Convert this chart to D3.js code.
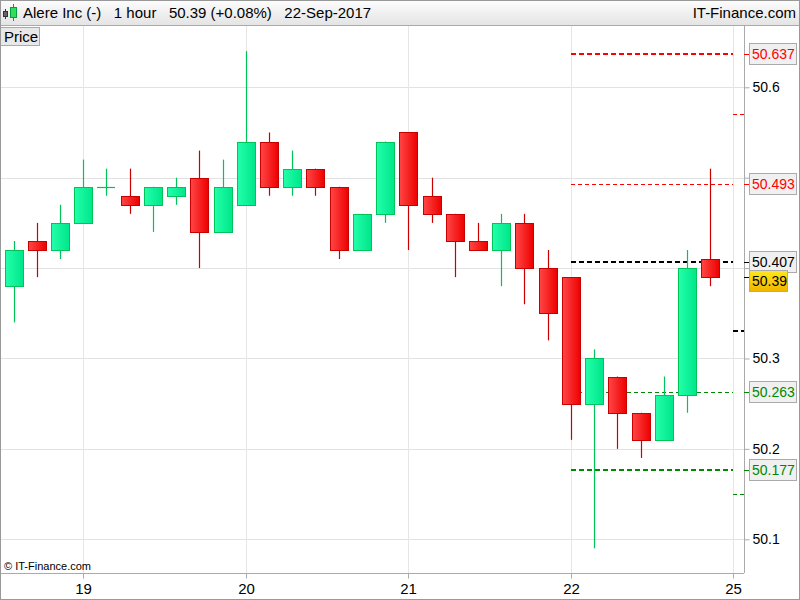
<!DOCTYPE html>
<html><head><meta charset="utf-8">
<script src="https://cdn.jsdelivr.net/npm/d3@7"></script>
<style>html,body{margin:0;padding:0;background:#fff;}svg{display:block;font-family:"Liberation Sans",Arial,sans-serif;}</style>
</head><body>
<script>
// ---- data ----
const opens  = [50.38,50.43,50.42,50.45,50.49,50.48,50.47,50.48,50.50,50.44,50.47,50.54,50.49,50.51,50.49,50.42,50.46,50.55,50.48,50.46,50.43,50.42,50.45,50.40,50.39,50.25,50.28,50.24,50.21,50.26,50.41];
const highs  = [50.43,50.45,50.47,50.52,50.51,50.51,50.49,50.50,50.53,50.52,50.64,50.55,50.53,50.51,50.49,50.46,50.54,50.55,50.50,50.46,50.45,50.46,50.46,50.42,50.39,50.31,50.28,50.24,50.28,50.42,50.51];
const lows   = [50.34,50.39,50.41,50.45,50.48,50.46,50.44,50.47,50.40,50.44,50.47,50.48,50.48,50.48,50.41,50.42,50.45,50.42,50.45,50.39,50.42,50.38,50.36,50.32,50.21,50.09,50.20,50.19,50.21,50.24,50.38];
const closes = [50.42,50.42,50.45,50.49,50.49,50.47,50.49,50.49,50.44,50.49,50.54,50.49,50.51,50.49,50.42,50.46,50.54,50.47,50.46,50.43,50.42,50.45,50.40,50.35,50.25,50.30,50.24,50.21,50.26,50.40,50.39];
const dayTickIdx = [3,10,17,24,31];
const dayTickLabels = ["19","20","21","22","25"];
const priceTicks = [50.1,50.2,50.3,50.4,50.5,50.6];
const levelValues = [50.637,50.493,50.407,50.263,50.177];
const levelLabels = ["50.637","50.493","50.407","50.263","50.177"];
const levelKinds  = ["red-thick","red-thin","black-thick","green-thin","green-thick"];
const markerValues = [50.570,50.330,50.150];
const markerKinds  = ["red","black","green"];
const lastPrice = 50.39;

const W=800,H=600, plotL=0, plotR=744, plotT=26, plotB=573;
const svg=d3.select("body").append("svg").attr("width",W).attr("height",H);
const defs=svg.append("defs");
const gG=defs.append("linearGradient").attr("id","gGreen");
gG.append("stop").attr("offset","0").attr("stop-color","#22ffaa");
gG.append("stop").attr("offset","1").attr("stop-color","#00e68a");
const gR=defs.append("linearGradient").attr("id","gRed");
gR.append("stop").attr("offset","0").attr("stop-color","#ff4646");
gR.append("stop").attr("offset","1").attr("stop-color","#ee0000");
const gH=defs.append("linearGradient").attr("id","gHead").attr("x2",0).attr("y2",1);
gH.append("stop").attr("offset","0").attr("stop-color","#fdfdfd");
gH.append("stop").attr("offset","1").attr("stop-color","#e4e4e4");
const gY=defs.append("linearGradient").attr("id","gGold").attr("x2",0).attr("y2",1);
gY.append("stop").attr("offset","0").attr("stop-color","#ffe81a");
gY.append("stop").attr("offset","1").attr("stop-color","#f0b400");

const y=d3.scaleLinear().domain([50.0627,50.6678]).range([plotB,plotT]);
const x=d3.scaleLinear().domain([0,30]).range([13.6,710.2]);
const cx=i=>Math.round(x(i));

// grid
svg.append("g").selectAll("line").data(priceTicks).join("line")
  .attr("x1",plotL).attr("x2",plotR).attr("y1",d=>Math.round(y(d))+0.5).attr("y2",d=>Math.round(y(d))+0.5)
  .attr("stroke","#e2e2e2");
svg.append("g").selectAll("line").data(dayTickIdx).join("line")
  .attr("x1",d=>cx(d)+0.5).attr("x2",d=>cx(d)+0.5).attr("y1",plotT).attr("y2",plotB)
  .attr("stroke","#e6e6e6");

// pivot levels
const lvColor=k=>k.startsWith("red")?"#ff0000":k.startsWith("black")?"#000":"#008800";
const x0=cx(24), x1=cx(31);
svg.append("g").selectAll("line").data(levelValues).join("line")
  .attr("x1",x0).attr("x2",x1)
  .attr("y1",(d,i)=>Math.round(y(d))+(levelKinds[i].endsWith("thick")?0:0.5))
  .attr("y2",(d,i)=>Math.round(y(d))+(levelKinds[i].endsWith("thick")?0:0.5))
  .attr("stroke",(d,i)=>lvColor(levelKinds[i]))
  .attr("stroke-width",(d,i)=>levelKinds[i].endsWith("thick")?2:1)
  .attr("stroke-dasharray",(d,i)=>levelKinds[i].endsWith("thick")?"5,3":"4,3");
svg.append("g").selectAll("line").data(markerValues).join("line")
  .attr("x1",x1).attr("x2",plotR)
  .attr("y1",(d,i)=>Math.round(y(d))+(markerKinds[i]==="black"?0:0.5))
  .attr("y2",(d,i)=>Math.round(y(d))+(markerKinds[i]==="black"?0:0.5))
  .attr("stroke",(d,i)=>lvColor(markerKinds[i]))
  .attr("stroke-width",(d,i)=>markerKinds[i]==="black"?2:1)
  .attr("stroke-dasharray",(d,i)=>markerKinds[i]==="black"?"5,3":"4,3");

// candles
const idx=d3.range(opens.length);
const up=i=>closes[i]>=opens[i];
const g=svg.append("g");
g.selectAll("line.w").data(idx).join("line").attr("class","w")
  .attr("x1",i=>cx(i)+0.5).attr("x2",i=>cx(i)+0.5)
  .attr("y1",i=>y(highs[i])).attr("y2",i=>y(lows[i]))
  .attr("stroke",i=>up(i)?"#00c45a":"#c80000").attr("stroke-width",1.2);
g.selectAll("rect").data(idx.filter(i=>opens[i]!==closes[i])).join("rect")
  .attr("x",i=>cx(i)-8.5).attr("width",18)
  .attr("y",i=>Math.round(y(Math.max(opens[i],closes[i])))+0.5)
  .attr("height",i=>Math.max(1,Math.round(y(Math.min(opens[i],closes[i])))-Math.round(y(Math.max(opens[i],closes[i])))))
  .attr("fill",i=>up(i)?"url(#gGreen)":"url(#gRed)")
  .attr("stroke",i=>up(i)?"#00c45a":"#c80000").attr("stroke-width",1);
g.selectAll("line.d").data(idx.filter(i=>opens[i]===closes[i])).join("line").attr("class","d")
  .attr("x1",i=>cx(i)-9).attr("x2",i=>cx(i)+9)
  .attr("y1",i=>Math.round(y(opens[i]))+0.5).attr("y2",i=>Math.round(y(opens[i]))+0.5)
  .attr("stroke","#00c45a").attr("stroke-width",1.2);

// right axis (labels hidden where a level box covers them, as in the original)
const covered=d=>levelValues.some(v=>Math.abs(y(v)-y(d))<14) || Math.abs(y(lastPrice)-y(d))<14;
const ra=svg.append("g").attr("transform",`translate(${plotR+0.5},0)`)
  .call(d3.axisRight(y).tickValues(priceTicks).tickFormat(d=>covered(d)?"":d3.format(".1f")(d)).tickSize(5).tickPadding(3));
ra.select(".domain").attr("stroke","#aaa").attr("d",`M0,${plotT}V${plotB}`);
ra.selectAll(".tick line").attr("stroke","#aaa");
ra.selectAll(".tick text").attr("font-size",14).attr("fill","#000").attr("font-family","Liberation Sans, Arial, sans-serif");

// bottom axis
const ba=svg.append("g").attr("transform",`translate(0,${plotB+0.5})`)
  .call(d3.axisBottom(x).tickValues(dayTickIdx).tickFormat((d,i)=>dayTickLabels[i]).tickSize(5).tickPadding(5));
ba.select(".domain").attr("stroke","#aaa").attr("d",`M0,0H${plotR}`);
ba.selectAll(".tick").attr("transform",d=>`translate(${cx(d)+0.5},0)`);
ba.selectAll(".tick line").attr("stroke","#aaa");
ba.selectAll(".tick text").attr("font-size",15).attr("fill","#000").attr("font-family","Liberation Sans, Arial, sans-serif");

// level labels
const lg=svg.append("g");
levelValues.forEach((v,i)=>{
  const yy=Math.round(y(v));
  lg.append("line").attr("x1",plotR).attr("x2",plotR+5).attr("y1",yy+0.5).attr("y2",yy+0.5).attr("stroke",lvColor(levelKinds[i]));
  lg.append("rect").attr("x",749.5).attr("y",yy-10.5).attr("width",47).attr("height",21)
    .attr("fill","#f0f0f0").attr("stroke","#aaa");
  lg.append("text").attr("x",752).attr("y",yy+5).attr("font-size",14)
    .attr("fill",levelKinds[i].startsWith("red")?"#ff0000":levelKinds[i].startsWith("black")?"#000":"#008800")
    .text(levelLabels[i]);
});
const lpY=Math.round(y(lastPrice))+4;
lg.append("line").attr("x1",plotR).attr("x2",plotR+5).attr("y1",Math.round(y(lastPrice))+0.5).attr("y2",Math.round(y(lastPrice))+0.5).attr("stroke","#000");
lg.append("rect").attr("x",749.5).attr("y",lpY-10.5).attr("width",38).attr("height",21)
  .attr("fill","url(#gGold)").attr("stroke","#aaa");
lg.append("text").attr("x",752).attr("y",lpY+5).attr("font-size",14).attr("fill","#000").text(d3.format(".2f")(lastPrice));

// header
svg.append("rect").attr("x",0).attr("y",0).attr("width",W).attr("height",25).attr("fill","url(#gHead)");
svg.append("line").attr("x1",0).attr("x2",W).attr("y1",25.5).attr("y2",25.5).attr("stroke","#aaa");
// icon
svg.append("line").attr("x1",5.5).attr("x2",5.5).attr("y1",9).attr("y2",19).attr("stroke","#333");
svg.append("rect").attr("x",3.5).attr("y",11.5).attr("width",4).attr("height",5).attr("fill","#666").attr("stroke","#333");
svg.append("line").attr("x1",13.5).attr("x2",13.5).attr("y1",4).attr("y2",21).attr("stroke","#00a040");
svg.append("rect").attr("x",10.5).attr("y",7.5).attr("width",6).attr("height",10).attr("fill","#33dd55").attr("stroke","#00a040");
svg.append("text").attr("x",23).attr("y",18).attr("font-size",15).attr("fill","#000")
  .attr("xml:space","preserve").style("white-space","pre")
  .text("Alere Inc (-)   1 hour   50.39 (+0.08%)   22-Sep-2017");
svg.append("text").attr("x",796).attr("y",18).attr("font-size",15).attr("text-anchor","end").attr("fill","#000").text("IT-Finance.com");

// Price box
svg.append("rect").attr("x",0.5).attr("y",27.5).attr("width",39).attr("height",18).attr("fill","#e8e8e8").attr("stroke","#aaa");
svg.append("text").attr("x",4).attr("y",42).attr("font-size",15).attr("fill","#000").text("Price");

// copyright
svg.append("text").attr("x",4).attr("y",570).attr("font-size",11).attr("fill","#000").text("© IT-Finance.com");

// outer border
svg.append("rect").attr("x",0.5).attr("y",0.5).attr("width",W-1).attr("height",H-1).attr("fill","none").attr("stroke","#999");
</script>
</body></html>
